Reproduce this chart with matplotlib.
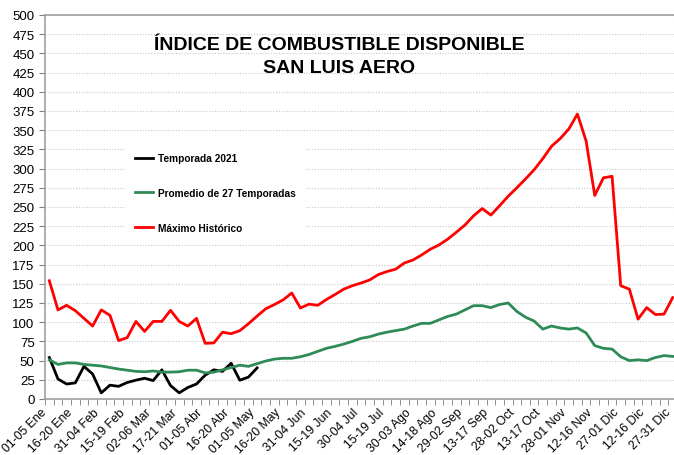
import matplotlib.pyplot as plt
import numpy as np

plt.rcParams["font.family"] = ["Liberation Sans", "DejaVu Sans"]

# pentad labels shown on the axis (every 3rd period)
shown_labels = ["01-05 Ene", "16-20 Ene", "31-04 Feb", "15-19 Feb", "02-06 Mar",
                "17-21 Mar", "01-05 Abr", "16-20 Abr", "01-05 May", "16-20 May",
                "31-04 Jun", "15-19 Jun", "30-04 Jul", "15-19 Jul", "30-03 Ago",
                "14-18 Ago", "29-02 Sep", "13-17 Sep", "28-02 Oct", "13-17 Oct",
                "28-01 Nov", "12-16 Nov", "27-01 Dic", "12-16 Dic", "27-31 Dic"]

temporada_2021 = [54, 26, 19.5, 21, 42.5, 32.5, 8, 18, 16.5, 21.5, 24.5, 27, 24, 38,
                  17.5, 8, 15, 19.5, 31, 38, 36, 46.5, 24.5, 28.5, 40.5]

promedio = [51, 45, 47, 47, 45, 44, 43, 41, 39, 37.5, 36, 35.5, 36.5, 35, 35, 35.5,
            37.5, 37.5, 34, 35, 38, 41, 44, 42.5, 46, 49.5, 52, 53, 53, 55, 58, 62,
            66, 68.5, 71.5, 75, 79, 81, 84.5, 87, 89, 91, 95, 98.5, 98.5, 103, 107.5,
            110.5, 116, 121.5, 121.5, 119, 123, 125, 114, 106.5, 101.5, 91, 95, 92.5,
            91, 92.5, 86, 69.5, 66, 65, 55, 50, 51, 50, 54, 56.5, 55.5]

maximo = [154, 116, 122, 115, 105, 95, 116, 109, 76, 80, 101, 88, 101, 101, 115.5,
          101, 95, 105, 72.5, 73, 87, 85, 89, 98, 108, 117.5, 123, 129, 138, 118.5,
          123.5, 122, 129.5, 136, 143, 147.5, 151, 155, 162, 166, 169, 177, 181,
          187.5, 195, 200.5, 208, 217, 226.5, 238.5, 248, 239.5, 251.5, 264, 275,
          286.5, 298.5, 313, 329, 339, 351.5, 371, 336, 265, 288, 290, 147.5, 143,
          104, 119, 110, 110.5, 132]

n = len(maximo)
x = np.arange(n)

fig = plt.figure(figsize=(6.74, 4.56), dpi=100)
ax = fig.add_axes([45 / 674, 1 - 400 / 456, 632 / 674, 384 / 456])

ax.plot(np.arange(len(temporada_2021)), temporada_2021, color="black", lw=2,
        label="Temporada 2021")
ax.plot(x, promedio, color="#2e8b57", lw=2, label="Promedio de 27 Temporadas")
ax.plot(x, maximo, color="#ff0000", lw=2, label="Máximo Histórico")

ax.set_xlim(-0.5, n - 0.5)
ax.set_ylim(0, 500)
ax.set_yticks(np.arange(0, 501, 25))
ax.yaxis.grid(True, color="#c8c8c8", ls=(0, (1, 1.5)), lw=0.8)
ax.set_axisbelow(True)

ax.set_xticks(np.arange(0, n, 3))
ax.set_xticklabels(shown_labels, rotation=45, ha="right")
ax.set_xticks(np.arange(-0.5, n, 1), minor=True)
ax.tick_params(axis="x", which="major", length=0, labelsize=8.8, pad=5)
ax.tick_params(axis="x", which="minor", length=4, color="#808080")
ax.tick_params(axis="y", length=4, color="#808080", labelsize=9.5)

for side in ["left", "bottom", "top"]:
    ax.spines[side].set_color("#a0a0a0")
    ax.spines[side].set_linewidth(1.2)
ax.spines["right"].set_visible(False)

fig.text(339 / 674, 1 - 57 / 456, "ÍNDICE DE COMBUSTIBLE DISPONIBLE\nSAN LUIS AERO",
         ha="center", va="center", fontsize=14, fontweight="bold", linespacing=1.4)

leg = ax.legend(loc="upper left", bbox_to_anchor=(0.118, 0.68), frameon=True,
                prop={"weight": "bold", "size": 7.3}, labelspacing=2.45,
                handlelength=1.8, handletextpad=0.5, borderpad=1.0)
leg.get_frame().set_edgecolor("none")
leg.get_frame().set_facecolor("white")
leg.get_frame().set_alpha(1)

fig.savefig("out.png", dpi=100)
